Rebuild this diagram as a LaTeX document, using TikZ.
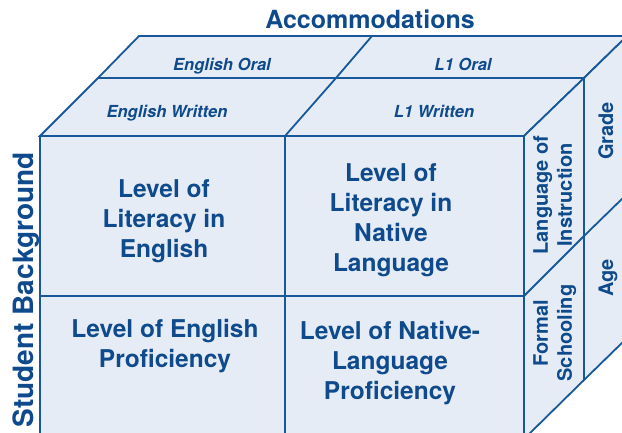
\documentclass[tikz,border=0pt]{standalone}
\usepackage{fontspec}
\setmainfont{TeX Gyre Heros}
\definecolor{cubefill}{RGB}{229,236,245}
\definecolor{cubeline}{RGB}{24,88,154}
\definecolor{cubetext}{RGB}{14,74,140}
\begin{document}
\begin{tikzpicture}[x=1pt,y=-1pt,
  edge/.style={draw=cubeline,line width=1.8pt,line join=miter},
  face/.style={edge,fill=cubefill},
  celltext/.style={text=cubetext,font={\fontsize{24.5}{30}\selectfont\bfseries},align=center,inner sep=0pt,anchor=north},
  toptext/.style={text=cubetext,font={\fontsize{16.6}{19}\selectfont\bfseries\itshape},inner sep=0pt,anchor=base},
  sidetext/.style={text=cubetext,font={\fontsize{20}{24}\selectfont\bfseries},align=center,inner sep=0pt,rotate=90},
  titletext/.style={text=cubetext,inner sep=0pt,anchor=base}]
\useasboundingbox (0,0) rectangle (622,433);
\clip (0,0) rectangle (622,433);
% corners
\coordinate (fa) at (40,136);  \coordinate (fb) at (285,136); \coordinate (fc) at (524,136);
\coordinate (ma) at (98,78);   \coordinate (mb) at (336,78);  \coordinate (mc) at (584,78);
\coordinate (ba) at (139,36);  \coordinate (bb) at (372,36);  \coordinate (bc) at (627,36);
\coordinate (fal) at (40,439); \coordinate (fbl) at (285,439); \coordinate (fcl) at (524,439);
\coordinate (mcl) at (584,380); \coordinate (bcl) at (627,338);
\coordinate (fah) at (40,296); \coordinate (fch) at (524,296);
\coordinate (mch) at (584,236); \coordinate (bch) at (627,194);
% faces
\path[face] (fa) -- (fc) -- (fcl) -- (fal) -- cycle;
\path[face] (fa) -- (ma) -- (ba) -- (bc) -- (mc) -- (fc) -- cycle;
\path[face] (fc) -- (mc) -- (bc) -- (bcl) -- (mcl) -- (fcl) -- cycle;
% dividers
\draw[edge] (ma) -- (mc);
\draw[edge] (fb) -- (mb) -- (bb);
\draw[edge] (fb) -- (fbl);
\draw[edge] (fah) -- (fch);
\draw[edge] (mc) -- (mcl);
\draw[edge] (fch) -- (mch) -- (bch);
% titles
\node[titletext,font={\fontsize{25}{28}\selectfont\bfseries}] (acc) at (370,29) {Accommodations};
\node[titletext,font={\fontsize{28}{32}\selectfont\bfseries},rotate=90] (sb) at (33,290) {Student Background};
% top labels
\node[toptext] (eo) at (222,71) {English Oral};
\node[toptext] (lo) at (463,71) {L1 Oral};
\node[toptext] (ew) at (167,118) {English Written};
\node[toptext] (lw) at (434,118) {L1 Written};
% front cells
\node[celltext] (lle) at (164,179.5) {Level of\\Literacy in\\English};
\node[celltext] (lln) at (391,163.5) {Level of\\Literacy in\\Native\\Language};
\node[celltext] (lep) at (165,319.5) {Level of English\\Proficiency};
\node[celltext] (lnp) at (390,321.5) {Level of Native-\\Language\\Proficiency};
% right face
\node[sidetext,anchor=north] (loi) at (533,195) {Language of\\Instruction};
\node[sidetext,anchor=north] (fs) at (533,333) {Formal\\Schooling};
\node[sidetext,anchor=base] (gr) at (613,131) {Grade};
\node[sidetext,anchor=base] (ag) at (613,278) {Age};
\end{tikzpicture}
\end{document}
